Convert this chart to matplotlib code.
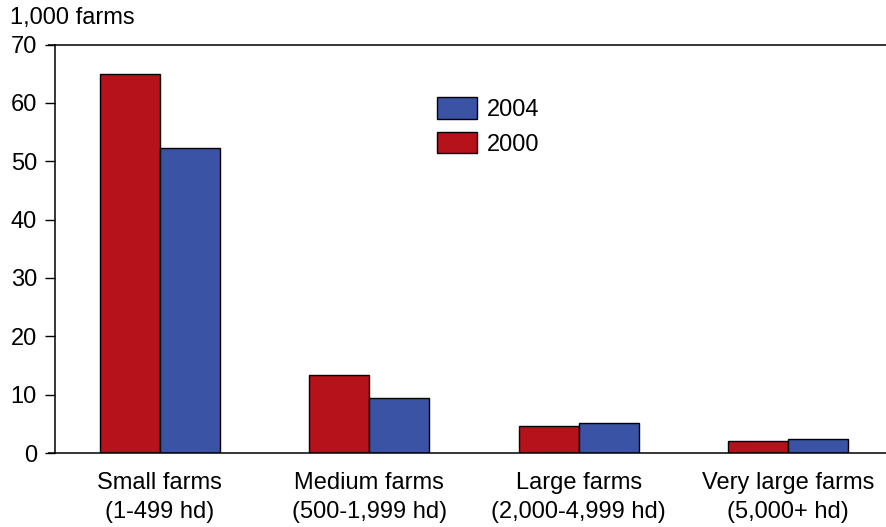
import numpy as np
import matplotlib
matplotlib.use("Agg")
import matplotlib.pyplot as plt

plt.rcParams['font.family'] = ['Liberation Sans', 'DejaVu Sans']

# farm counts by size class, in thousands
categories = ['Small farms\n(1-499 hd)', 'Medium farms\n(500-1,999 hd)',
              'Large farms\n(2,000-4,999 hd)', 'Very large farms\n(5,000+ hd)']
farms_2000 = [65.0, 13.4, 4.7, 2.05]
farms_2004 = [52.3, 9.5, 5.1, 2.35]
yticks = [0, 10, 20, 30, 40, 50, 60, 70]

RED = '#B5121B'
BLUE = '#3A53A4'
FS = 17

fig = plt.figure(figsize=(8.86, 5.27), dpi=100)
ax = fig.add_axes([55 / 886, 1 - 453 / 527, 1 - 55 / 886, (453 - 44.5) / 527])

x = np.arange(len(categories))
w = 0.286
b00 = ax.bar(x - w / 2, farms_2000, w, color=RED, edgecolor='black', linewidth=1.0, label='2000')
b04 = ax.bar(x + w / 2, farms_2004, w, color=BLUE, edgecolor='black', linewidth=1.0, label='2004')

ax.set_xlim(-0.501, 3.468)
ax.set_ylim(0, 70)
ax.set_yticks(yticks)
ax.set_xticks(x)
ax.set_xticklabels(categories, fontsize=FS, linespacing=1.4)
ax.tick_params(axis='x', length=0, pad=14)
ax.tick_params(axis='y', length=7, width=1, direction='out', labelsize=FS, pad=6)

ax.spines['right'].set_visible(False)
for side in ['top', 'bottom', 'left']:
    ax.spines[side].set_linewidth(1.1)

# extend the top and bottom rules out to the tick ends
for yv in [0, 70]:
    ax.plot([-0.501 - 7 / 209.5, -0.501], [yv, yv], color='black', lw=1.1,
            clip_on=False, solid_capstyle='butt')

ax.legend([b04, b00], ['2004', '2000'], loc='upper left',
          bbox_to_anchor=(382 / 831, 1 - 53 / 408.5), frameon=False,
          fontsize=FS, handlelength=1.7, handleheight=1.0,
          handletextpad=0.42, labelspacing=0.46, borderaxespad=0,
          borderpad=0)

fig.text(10 / 886, 1 - 18 / 527, '1,000 farms', fontsize=FS, va='center', ha='left')

fig.savefig('out.png', dpi=100)
